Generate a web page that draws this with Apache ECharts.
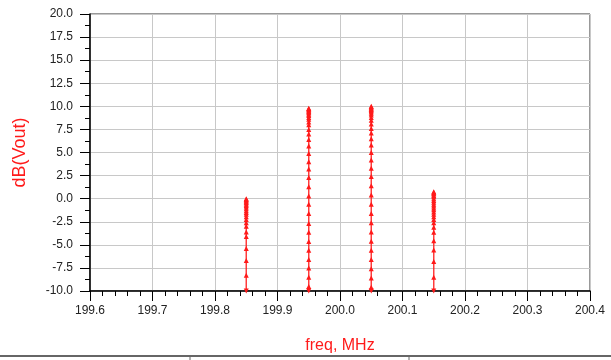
<!DOCTYPE html>
<html>
<head>
<meta charset="utf-8">
<script src="https://cdn.jsdelivr.net/npm/echarts@6/dist/echarts.min.js"></script>
<style>
  html, body { margin: 0; padding: 0; background: #fff; }
  #chart { width: 611px; height: 360px; }
</style>
</head>
<body>
<div id="chart"></div>
<script>
// spectral lines: one frequency each, dB samples read bottom to top
const freqs = [199.85, 199.95, 200.05, 200.15]
const tone1 = [-10, -8.3, -6.7, -5.4, -4.1, -3.6, -3.0, -2.6, -2.25, -1.95, -1.7, -1.5, -1.3, -1.1, -0.9, -0.75, -0.6, -0.45, -0.35, -0.25, -0.15, -0.05, 0.0]
const tone2 = [-10, -9.5, -8.5, -7.5, -6.6, -5.6, -4.65, -3.65, -2.7, -1.6, -0.6, 0.3, 1.3, 2.3, 3.2, 4.0, 4.9, 5.7, 6.4, 7.0, 7.5, 8.0, 8.3, 8.6, 8.8, 9.0, 9.15, 9.3, 9.4, 9.5, 9.6, 9.7, 9.75, 9.8]
const tone3 = [-10, -9.6, -8.6, -7.6, -6.6, -5.6, -4.6, -3.6, -2.6, -1.6, -0.6, 0.4, 1.4, 2.4, 3.3, 4.2, 5.0, 5.8, 6.5, 7.1, 7.6, 8.1, 8.5, 8.8, 9.05, 9.25, 9.4, 9.55, 9.65, 9.75, 9.85, 9.95, 10.0]
const tone4 = [-10, -8.5, -6.8, -5.55, -4.55, -3.65, -3.1, -2.6, -2.25, -1.95, -1.7, -1.45, -1.2, -1.0, -0.8, -0.6, -0.4, -0.2, 0.0, 0.2, 0.35, 0.5, 0.6, 0.7, 0.75]
const tones = [tone1, tone2, tone3, tone4]

const xMin = 199.6, xMax = 200.4, xStep = 0.1
const yMin = -10, yMax = 20, yStep = 2.5

const red = '#ff1a1a'
const font = 'Liberation Sans, Arial, sans-serif'

const series = tones.map((vals, i) => ({
  type: 'line',
  data: vals.map((v, j) => j === 0
    ? { value: [freqs[i], v], symbolRotate: 180 }
    : [freqs[i], v]),
  symbol: 'triangle',
  symbolSize: 5,
  showAllSymbol: true,
  lineStyle: { color: red, width: 1.5, opacity: 0.85 },
  itemStyle: { color: red },
  animation: false,
  z: 3
}))

const chart = echarts.init(document.getElementById('chart'))
chart.setOption({
  backgroundColor: '#fff',
  grid: {
    left: 90, right: 21, top: 14, bottom: 69,
    outerBoundsMode: 'none',
    containLabel: false,
    show: true, borderColor: '#333', borderWidth: 1
  },
  xAxis: {
    type: 'value',
    min: xMin, max: xMax, interval: xStep,
    name: 'freq, MHz',
    nameLocation: 'middle',
    nameGap: 47,
    nameTextStyle: { color: red, fontSize: 16, fontFamily: font },
    axisLine: { onZero: false, lineStyle: { color: '#000', width: 1.5 } },
    axisTick: { inside: false, length: 10, lineStyle: { color: '#000' } },
    minorTick: { show: true, splitNumber: 5, length: 5, lineStyle: { color: '#000' } },
    axisLabel: {
      margin: 14, color: '#222', fontSize: 12, fontFamily: font,
      formatter: v => v.toFixed(1)
    },
    splitLine: { show: true, lineStyle: { color: '#c8c8c8', width: 1 } }
  },
  yAxis: {
    type: 'value',
    min: yMin, max: yMax, interval: yStep,
    name: 'dB(Vout)',
    nameLocation: 'middle',
    nameGap: 61,
    nameRotate: 90,
    nameTextStyle: { color: red, fontSize: 18, fontFamily: font },
    axisLine: { onZero: false, lineStyle: { color: '#000', width: 1.5 } },
    axisTick: { inside: false, length: 10, lineStyle: { color: '#000' } },
    minorTick: { show: true, splitNumber: 2, length: 5, lineStyle: { color: '#000' } },
    axisLabel: {
      margin: 17, color: '#222', fontSize: 12, fontFamily: font,
      formatter: v => v.toFixed(1)
    },
    splitLine: { show: true, lineStyle: { color: '#c8c8c8', width: 1 } }
  },
  graphic: [
    { type: 'line', shape: { x1: 0, y1: 356, x2: 611, y2: 356 }, style: { stroke: '#666', lineWidth: 2 } },
    { type: 'line', shape: { x1: 190, y1: 356, x2: 190, y2: 360 }, style: { stroke: '#666', lineWidth: 1 } },
    { type: 'line', shape: { x1: 409, y1: 356, x2: 409, y2: 360 }, style: { stroke: '#666', lineWidth: 1 } }
  ],
  series
})
</script>
</body>
</html>
